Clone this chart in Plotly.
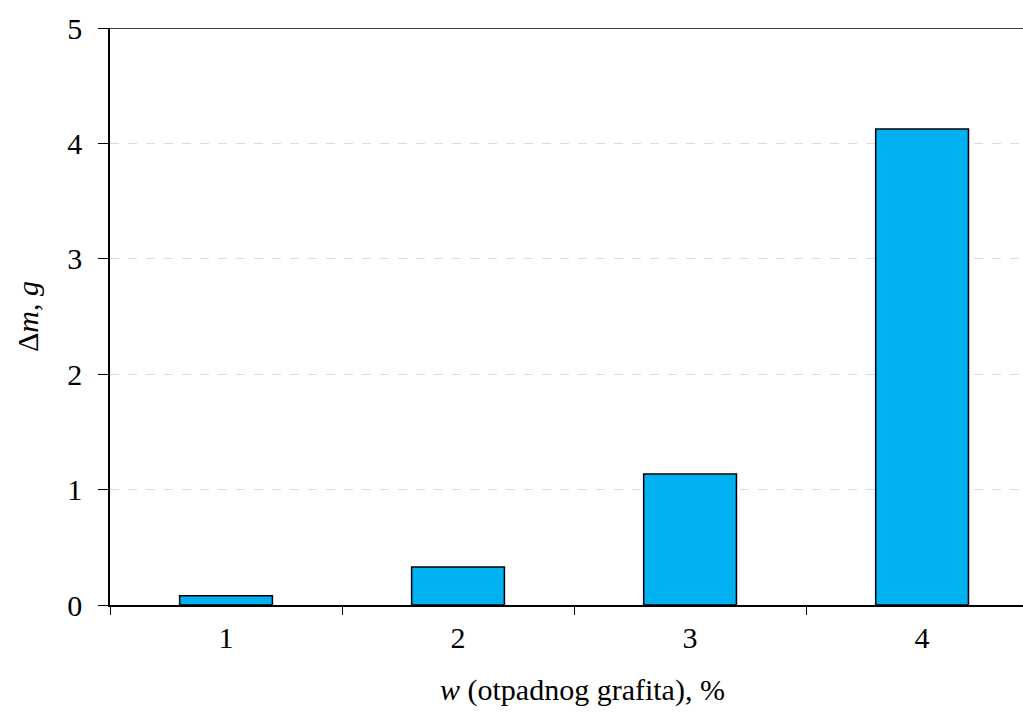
import plotly.graph_objects as go

categories = ["1", "2", "3", "4"]
delta_m = [0.08, 0.33, 1.135, 4.125]
y_ticks = [0, 1, 2, 3, 4, 5]
x_title = "<i>w</i> (otpadnog grafita), %"
y_title = "Δ<i>m</i>, <i>g</i>"

FONT = "'Liberation Serif', 'Times New Roman', Times, serif"
FS = 30

fig = go.Figure()
fig.add_trace(go.Bar(
    x=categories, y=delta_m, width=0.4,
    marker=dict(color="#00B0F0", line=dict(color="black", width=1.5)),
))

fig.add_shape(type="line", xref="paper", yref="y", x0=-10/913, x1=1, y0=5, y1=5,
              line=dict(color="black", width=1.5))

fig.add_annotation(text=x_title, xref="paper", yref="paper", x=0.517, y=-0.147,
                   xanchor="center", yanchor="middle", showarrow=False,
                   font=dict(family=FONT, size=FS, color="black"))

fig.update_layout(
    width=1023, height=716,
    margin=dict(l=110, r=0, t=28, b=111),
    paper_bgcolor="white", plot_bgcolor="white",
    font=dict(family=FONT, size=FS, color="black"),
    showlegend=False,
    xaxis=dict(
        type="category", range=[-0.5, 3.435],
        tickson="boundaries", ticks="outside", ticklen=8, tickwidth=1.2, tickcolor="black",
        showline=True, linecolor="black", linewidth=1.5, showgrid=False,
        tickfont=dict(family=FONT, size=FS), ticklabelstandoff=5,
    ),
    yaxis=dict(
        range=[0, 5], tickvals=y_ticks, ticks="outside", ticklen=10, tickwidth=1.2, tickcolor="black",
        showline=True, linecolor="black", linewidth=1.5, zeroline=False,
        showgrid=True, gridcolor="#dcdcdc", griddash="dash", gridwidth=1.2,
        tickfont=dict(family=FONT, size=FS), ticklabelstandoff=10,
        title=dict(text=y_title, font=dict(family=FONT, size=FS), standoff=20),
    ),
)

fig.write_html("out.html", config={"displayModeBar": False},
               post_script="document.body.style.margin='0';document.body.style.overflow='hidden';")
